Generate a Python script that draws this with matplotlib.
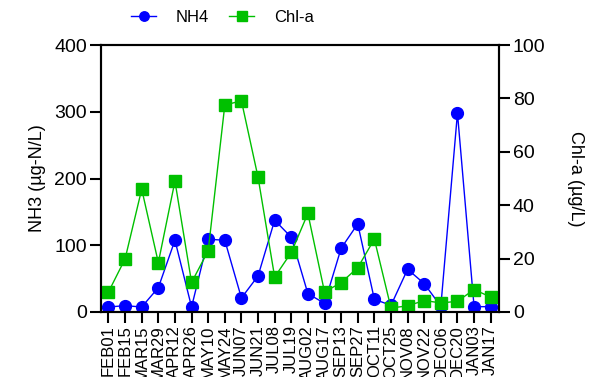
import matplotlib
matplotlib.use("Agg")
import matplotlib.pyplot as plt

plt.rcParams['font.family'] = ['Liberation Sans', 'DejaVu Sans']

# sampling dates
dates = ["FEB01", "FEB15", "MAR15", "MAR29", "APR12", "APR26", "MAY10", "MAY24",
         "JUN07", "JUN21", "JUL08", "JUL19", "AUG02", "AUG17", "SEP13", "SEP27",
         "OCT11", "OCT25", "NOV08", "NOV22", "DEC06", "DEC20", "JAN03", "JAN17"]

# NH4 (ug-N/L), left axis
nh4 = [7.5, 9.5, 7.5, 36.5, 107.5, 7.5, 109, 107.5, 21, 54, 137.5, 112,
       27.5, 13, 95.5, 132, 19, 10, 64, 42.5, 8.5, 298, 8, 8]

# Chl-a (ug/L), right axis
chla = [7.5, 19.9, 46, 18.5, 49, 11.1, 22.9, 77.5, 79.1, 50.5, 13.1, 22.3,
        36.9, 7.5, 11, 16.6, 27.3, 1.5, 2.3, 4.3, 3.4, 4.0, 8.4, 5.6]

blue = "#0000ff"
green = "#00c000"

fig = plt.figure(figsize=(5.99, 3.77), dpi=100)
ax = fig.add_axes([101 / 599, 1 - 312 / 377, 398 / 599, 267 / 377])
ax2 = ax.twinx()

x = list(range(len(dates)))
l1, = ax.plot(x, nh4, color=blue, marker="o", markersize=8.5, linewidth=1,
              label="NH4")
l2, = ax2.plot(x, chla, color=green, marker="s", markersize=8.5, linewidth=1,
               label="Chl-a")

ax.set_xlim(-0.45, 23.5)
ax.set_ylim(0, 400)
ax2.set_ylim(0, 100)
ax.set_yticks([0, 100, 200, 300, 400])
ax2.set_yticks([0, 20, 40, 60, 80, 100])
ax.set_xticks(x)
ax.set_xticklabels(dates, rotation=90, fontsize=12)

for a in (ax, ax2):
    for s in a.spines.values():
        s.set_linewidth(1.5)
    a.tick_params(axis="y", length=8, width=1.5, labelsize=14, pad=2)
ax.tick_params(axis="x", length=8, width=1.5, pad=1.5)

ax.set_ylabel("NH3 (µg-N/L)", fontsize=13, labelpad=6)
ax2.set_ylabel("Chl-a (µg/L)", fontsize=13, rotation=270, labelpad=28)

fig.legend(handles=[l1, l2], loc="center left", bbox_to_anchor=(116 / 599, 1 - 17 / 377),
           ncol=2, frameon=False, fontsize=12, handlelength=1.5, markerscale=0.8,
           columnspacing=1.2, handletextpad=1.2)

fig.savefig("out.png", dpi=100)
